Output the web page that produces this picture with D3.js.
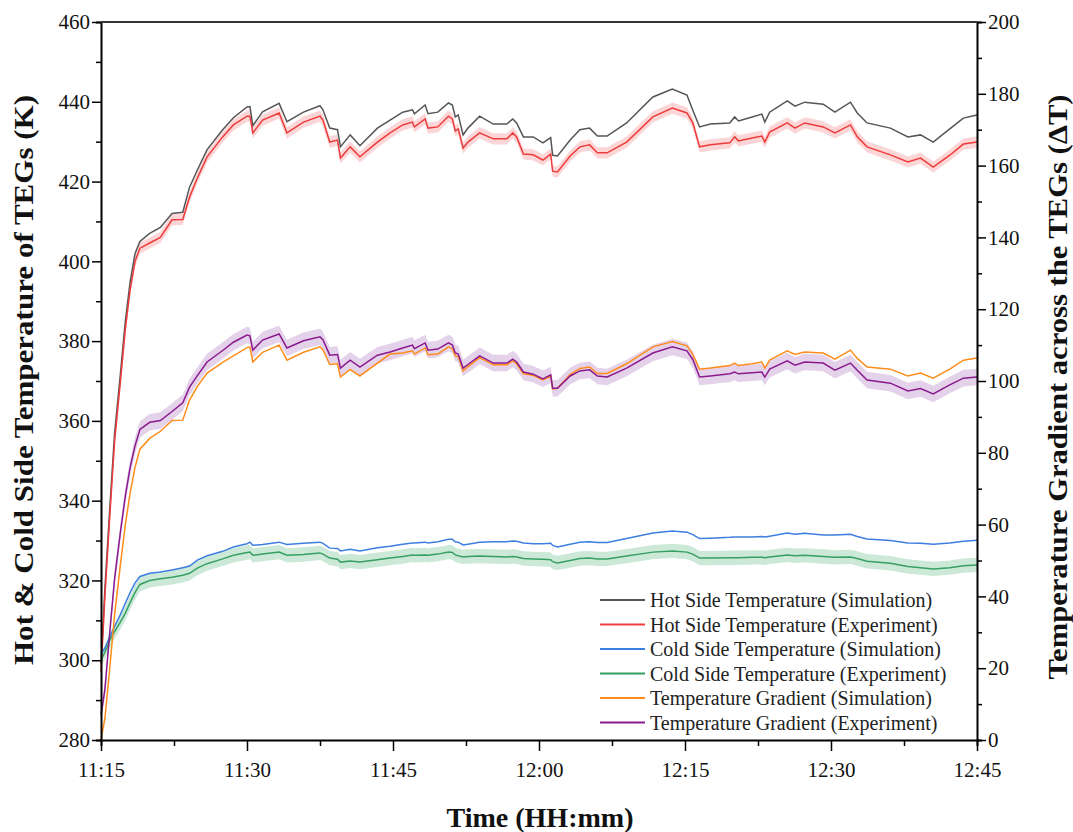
<!DOCTYPE html>
<meta charset="utf-8">
<html>
<head>
<script src="https://cdn.jsdelivr.net/npm/d3@7"></script>
<style>
body { margin:0; background:#fff; }
text { font-family:"Liberation Serif","Times New Roman",serif; fill:#111; }
.tick text { font-size:21px; }
.axis-title { font-size:27px; font-weight:bold; }
.legend text { font-size:20px; fill:#222; }
</style>
</head>
<body>
<div id="my_dataviz"></div>
<script>

// minutes after 11:15
var minutes = [0,0.4,0.9,1.4,2.0,2.5,3.0,3.5,4.0,5.0,6.1,7.3,8.4,9.1,9.9,10.9,12.5,13.6,15.0,15.3,
  15.6,16.6,18.3,19.1,20.8,22.5,22.8,23.5,24.3,24.6,25.6,26.6,28.4,29.7,31.0,32.0,32.2,33.3,33.6,34.6,
  35.7,36.1,36.4,36.7,37.2,37.7,38.9,40.3,41.7,42.3,42.7,43.4,44.4,45.4,46.2,46.4,46.9,48.2,49.2,50.2,
  51.0,52.0,54.0,56.7,58.7,60.2,60.8,61.5,62.6,64.6,65.1,65.5,66.9,67.9,68.2,68.7,70.5,71.3,72.3,74.2,
  75.4,77.0,77.7,78.7,81.1,82.9,84.2,85.5,87.2,88.6,90.0];

// left axis (K)
var hotSim = [299,318,338,357,372,385,395,402,405,407,408.5,412,412.3,418.6,422.9,428,433,436,438.7,438.8,
  434,437.5,439.6,435,437.4,439,438,433.4,433,428.7,431.7,429,433.4,435.4,437.4,438,437,439.2,437,437.4,
  439.7,439.2,436.2,436.7,431.7,433.4,436.4,434.4,434.4,435.7,434.7,431.2,431.2,429.7,431,426.6,426.4,430.4,433,433.4,
  431.4,431.4,434.7,441.2,443.2,441.7,437.9,433.7,434.4,434.7,436.2,435.2,436.2,436.9,434.9,437.4,440.2,438.9,439.9,439.4,
  437.4,439.9,437.2,434.7,433.4,431.2,431.7,429.9,433.2,435.9,436.7];

var hotExp = [297,316,336,355,370,383,393,400,403.3,404.6,406,410.4,410.5,416.1,420.9,426.2,431.2,434.2,436.4,436.4,
  432.2,435.4,437.2,432.2,434.9,436.4,435.4,429.9,430.4,425.9,428.7,426.2,429.9,432.2,434.2,434.9,433.7,435.7,433.4,433.7,
  436.4,435.7,432.7,433.2,428.4,429.9,432.2,430.7,430.7,432.2,431.2,426.9,426.7,425.4,426.9,422.6,422.4,426.4,428.7,429.2,
  427.2,427.2,429.9,436.2,438.4,437.2,434.7,428.7,429.2,429.7,431.2,430.2,430.9,431.4,429.9,432.4,434.7,433.4,434.7,433.7,
  432.2,434.2,431.2,428.7,426.7,424.9,425.9,423.6,426.6,429.4,429.9];

var coldSim = [301.5,303,305.8,308.5,311.5,314.3,317,319.4,321,321.8,322.1,322.6,323.2,323.6,325.1,326.2,327.3,328.4,329.2,329.6,
  328.8,329.0,329.6,329.0,329.3,329.6,329.3,328.1,328.0,327.4,327.8,327.4,328.2,328.6,329.1,329.4,329.4,329.6,329.4,329.7,
  330.3,330.3,329.7,329.6,328.9,329.1,329.6,329.7,329.7,329.9,329.8,329.4,329.2,329.2,329.3,328.8,328.4,329.1,329.6,329.7,
  329.5,329.5,330.5,331.9,332.4,332.1,331.5,330.5,330.6,330.8,330.9,330.9,330.9,331.0,330.9,331.1,331.9,331.6,331.8,331.4,
  331.4,331.6,331.0,330.4,330.0,329.4,329.3,329.1,329.4,329.8,330.1];

var coldExp = [300,302,305,307.2,309.6,311.8,314.5,317,319,320,320.4,320.8,321.3,321.8,323.1,324.2,325.4,326.3,327.0,327.1,
  326.3,326.6,327.1,326.3,326.5,326.9,326.6,325.6,325.3,324.6,324.9,324.6,325.2,325.6,326.0,326.4,326.3,326.4,326.3,326.6,
  327.1,327.0,326.4,326.2,325.9,326.0,326.1,326.0,325.9,326.0,325.9,325.5,325.4,325.3,325.2,324.7,324.4,325.0,325.5,325.6,
  325.4,325.4,326.1,327.1,327.4,327.1,326.6,325.6,325.6,325.7,325.7,325.7,325.8,325.8,325.7,325.9,326.4,326.2,326.3,326.0,
  325.8,325.9,325.5,324.8,324.3,323.5,323.2,322.9,323.2,323.7,323.9];

// right axis (delta T)
var gradSim = [0,6,20,35,49,60,69,76,81,84,86,89,89.1,94.7,98.5,102.2,105.2,107.0,109.3,109.5,
  105.3,108.0,110.0,105.8,108.0,109.5,108.7,104.6,104.8,101.1,103.2,101.4,105.0,107.5,107.8,108.4,107.5,109.2,107.3,107.5,
  109.5,109.0,107.0,106.8,102.8,104.0,106.5,104.5,104.5,105.6,104.8,102.0,101.6,100.3,101.4,97.8,98.0,101.8,103.5,103.9,
  102.1,102.1,104.8,109.5,111.0,109.8,107.4,103.3,103.6,104.3,105.0,104.3,104.8,105.3,103.6,105.8,108.4,107.4,108.1,107.8,
  106.1,108.6,106.3,103.9,103.3,101.4,102.2,100.8,103.3,105.8,106.4];

var gradExp = [7,14,30,45,58,68,76,82,86.5,88.5,89,91.5,93.9,98.3,101.5,105.3,108.5,110.8,112.8,112.6,
  108.6,111.4,113.1,109.2,111.2,112.3,111.5,107.2,107.4,103.6,105.8,103.9,107.2,108.1,109.2,110.0,109.0,110.6,108.6,108.9,
  110.6,110.0,107.8,107.5,103.6,104.6,107.0,105.0,105.0,106.1,105.3,102.5,101.9,100.6,101.7,98.0,98.0,101.4,102.8,103.1,
  101.4,101.1,103.6,107.8,109.5,108.4,106.0,101.1,101.4,102.0,102.5,102.0,102.3,102.5,101.1,103.3,105.6,104.4,105.3,105.0,
  103.0,105.0,103.0,100.3,99.4,97.2,97.9,96.4,98.9,100.8,101.1];

var timeTicks = ["11:15","11:30","11:45","12:00","12:15","12:30","12:45"];
var seriesNames = ["Hot Side Temperature (Simulation)","Hot Side Temperature (Experiment)",
  "Cold Side Temperature (Simulation)","Cold Side Temperature (Experiment)",
  "Temperature Gradient (Simulation)","Temperature Gradient (Experiment)"];

var margin = {top: 22, right: 96, bottom: 92, left: 101},
    width = 1073 - margin.left - margin.right,
    height = 832 - margin.top - margin.bottom;

var svg = d3.select("#my_dataviz")
  .append("svg")
    .attr("width", 1073)
    .attr("height", 832)
  .append("g")
    .attr("transform", "translate(" + margin.left + "," + margin.top + ")");

var x = d3.scaleLinear().domain([0, 90]).range([0, width]);
var yL = d3.scaleLinear().domain([280, 460]).range([height, 0]);
var yR = d3.scaleLinear().domain([0, 200]).range([height, 0]);

// shaded error bands for the experiment curves
function band(vals, scale, err) {
  return d3.area()
    .x(function(d, i) { return x(minutes[i]); })
    .y0(function(d) { return scale(d - err); })
    .y1(function(d) { return scale(d + err); })(vals);
}
function line(vals, scale) {
  return d3.line()
    .x(function(d, i) { return x(minutes[i]); })
    .y(function(d) { return scale(d); })(vals);
}

var plot = svg.append("g");
plot.append("path").attr("d", band(hotExp, yL, 1.4)).attr("fill", "#f58a8a").attr("fill-opacity", 0.35);
plot.append("path").attr("d", band(coldExp, yL, 1.8)).attr("fill", "#6cc08e").attr("fill-opacity", 0.35);
plot.append("path").attr("d", band(gradExp, yR, 2.3)).attr("fill", "#b27ac4").attr("fill-opacity", 0.35);

var series = [
  {v: hotSim,  s: yL, c: "#555555"},
  {v: hotExp,  s: yL, c: "#ee3b3b"},
  {v: coldSim, s: yL, c: "#3c7fe0"},
  {v: coldExp, s: yL, c: "#35a060"},
  {v: gradSim, s: yR, c: "#ff8c1a"},
  {v: gradExp, s: yR, c: "#8a1a8e"}
];
series.forEach(function(d) {
  plot.append("path")
    .attr("d", line(d.v, d.s))
    .attr("fill", "none")
    .attr("stroke", d.c)
    .attr("stroke-width", 1.5);
});

// axes
var xAxis = svg.append("g")
  .attr("transform", "translate(0," + height + ")")
  .call(d3.axisBottom(x).tickValues(d3.range(0, 91, 7.5)).tickSize(6)
        .tickFormat(function(d) { return d % 15 === 0 ? timeTicks[d / 15] : ""; }));
xAxis.selectAll(".tick line").filter(function(d) { return d % 15 === 0; }).attr("y2", 11);
xAxis.selectAll(".tick text").attr("dy", "1.35em");

var yAxisL = svg.append("g")
  .call(d3.axisLeft(yL).tickValues(d3.range(280, 461, 10)).tickSize(5)
        .tickFormat(function(d) { return d % 20 === 0 ? d : ""; }));
yAxisL.selectAll(".tick line").filter(function(d) { return d % 20 === 0; }).attr("x2", -9);
yAxisL.selectAll(".tick text").attr("x", -11);

var yAxisR = svg.append("g")
  .attr("transform", "translate(" + width + ",0)")
  .call(d3.axisRight(yR).tickValues(d3.range(0, 201, 10)).tickSize(5)
        .tickFormat(function(d) { return d % 20 === 0 ? d : ""; }));
yAxisR.selectAll(".tick line").filter(function(d) { return d % 20 === 0; }).attr("x2", 9);
yAxisR.selectAll(".tick text").attr("x", 11);

svg.selectAll(".domain").attr("stroke", "#000").attr("stroke-width", 2);
svg.selectAll(".tick line").attr("stroke", "#000").attr("stroke-width", 1.5);
svg.selectAll(".tick text").style("fill", "#111");

// top frame line
svg.append("line").attr("x1", 0).attr("x2", width).attr("y1", 0).attr("y2", 0)
  .attr("stroke", "#333").attr("stroke-width", 2);

// titles
svg.append("text").attr("class", "axis-title")
  .attr("text-anchor", "middle")
  .attr("textLength", 570).attr("lengthAdjust", "spacingAndGlyphs")
  .attr("transform", "translate(" + (-68) + "," + 358 + ")rotate(-90)")
  .text("Hot & Cold Side Temperature of TEGs (K)");

svg.append("text").attr("class", "axis-title")
  .attr("text-anchor", "middle")
  .attr("textLength", 585).attr("lengthAdjust", "spacingAndGlyphs")
  .attr("transform", "translate(" + (width + 90) + "," + 365 + ")rotate(-90)")
  .text("Temperature Gradient across the TEGs (\u0394T)");

svg.append("text").attr("class", "axis-title")
  .attr("text-anchor", "middle")
  .attr("textLength", 187).attr("lengthAdjust", "spacingAndGlyphs")
  .attr("x", 540 - margin.left)
  .attr("y", height + 87)
  .text("Time (HH:mm)");

// legend
var legend = svg.append("g").attr("class", "legend")
  .attr("transform", "translate(" + (600 - margin.left) + "," + (600 - margin.top) + ")");
seriesNames.forEach(function(name, i) {
  var row = legend.append("g").attr("transform", "translate(0," + (i * 24.5) + ")");
  row.append("line").attr("x1", 0).attr("x2", 45).attr("y1", 0).attr("y2", 0)
    .attr("stroke", series[i].c).attr("stroke-width", 2);
  row.append("text").attr("x", 50).attr("y", 0).attr("dy", "0.35em").text(name);
});

</script>
</body>
</html>
